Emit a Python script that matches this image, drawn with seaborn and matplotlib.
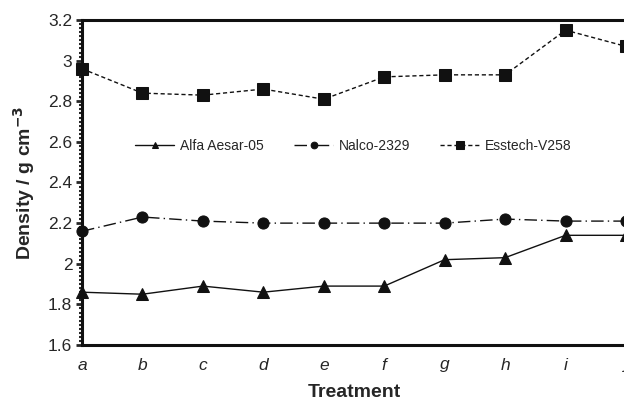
import numpy as np
import pandas as pd
import matplotlib
matplotlib.use('Agg')
import matplotlib.pyplot as plt
import seaborn as sns
from matplotlib.ticker import MultipleLocator, FixedLocator, FuncFormatter

# data
treatments = ['a', 'b', 'c', 'd', 'e', 'f', 'g', 'h', 'i', 'j']
alfa = [1.86, 1.85, 1.89, 1.86, 1.89, 1.89, 2.02, 2.03, 2.14, 2.14]
nalco = [2.16, 2.23, 2.21, 2.20, 2.20, 2.20, 2.20, 2.22, 2.21, 2.21]
esstech = [2.96, 2.84, 2.83, 2.86, 2.81, 2.92, 2.93, 2.93, 3.15, 3.07]
series_names = ['Alfa Aesar-05', 'Nalco-2329', 'Esstech-V258']

df = pd.DataFrame({'Treatment': treatments * 3,
                   'Density': alfa + nalco + esstech,
                   'Material': np.repeat(series_names, len(treatments))})

sns.set_style('white')
plt.rcParams['font.family'] = ['Liberation Sans', 'DejaVu Sans']

fig = plt.figure(figsize=(6.24, 4.01), dpi=100)
ax = fig.add_axes([82 / 624, 56 / 401, 544 / 624, 325 / 401])

styles = {
    'Alfa Aesar-05': dict(marker='^', linestyle='-', ms=8),
    'Nalco-2329': dict(marker='o', linestyle=(0, (9, 3, 1, 3)), ms=8),
    'Esstech-V258': dict(marker='s', linestyle=(0, (3, 2)), ms=9),
}
for name in series_names:
    st = styles[name]
    sns.lineplot(data=df[df['Material'] == name], x='Treatment', y='Density',
                 ax=ax, color='#111111', linewidth=1, marker=st['marker'],
                 markersize=st['ms'], linestyle=st['linestyle'],
                 markeredgecolor='#111111', label=name, clip_on=False)

ax.set_xlim(0, 9)
ax.set_ylim(1.6, 3.2)
ax.yaxis.set_major_locator(MultipleLocator(0.2))
ax.yaxis.set_minor_locator(MultipleLocator(0.02))
ax.yaxis.set_major_formatter(FuncFormatter(lambda v, p: f'{round(v, 1):g}'))
ax.xaxis.set_minor_locator(FixedLocator(np.arange(0.5, 9, 1)))

ax.tick_params(axis='x', which='major', length=0, pad=9, labelsize=12.5)
ax.tick_params(axis='x', which='minor', direction='in', length=4, width=2)
ax.tick_params(axis='y', which='major', direction='out', length=4, width=2,
               labelsize=12.5, left=True, pad=3)
ax.tick_params(axis='y', which='minor', direction='out', length=2, width=1.5,
               left=True)
for lbl in ax.get_xticklabels():
    lbl.set_style('italic')

for side in ['left', 'bottom', 'top']:
    ax.spines[side].set_linewidth(2.2)
    ax.spines[side].set_color('#111111')
ax.spines['right'].set_visible(False)

ax.set_xlabel('Treatment', fontsize=14, fontweight='bold', labelpad=8)
ax.set_ylabel('Density / g cm$^{\\mathbf{-3}}$', fontsize=14, fontweight='bold',
              labelpad=8)

ax.legend(loc='center', bbox_to_anchor=(0.499, 0.612), ncol=3, frameon=False,
          fontsize=10, handlelength=2.8, columnspacing=2.2, markerscale=0.6,
          handletextpad=0.4)

fig.savefig('out.png', dpi=100)
